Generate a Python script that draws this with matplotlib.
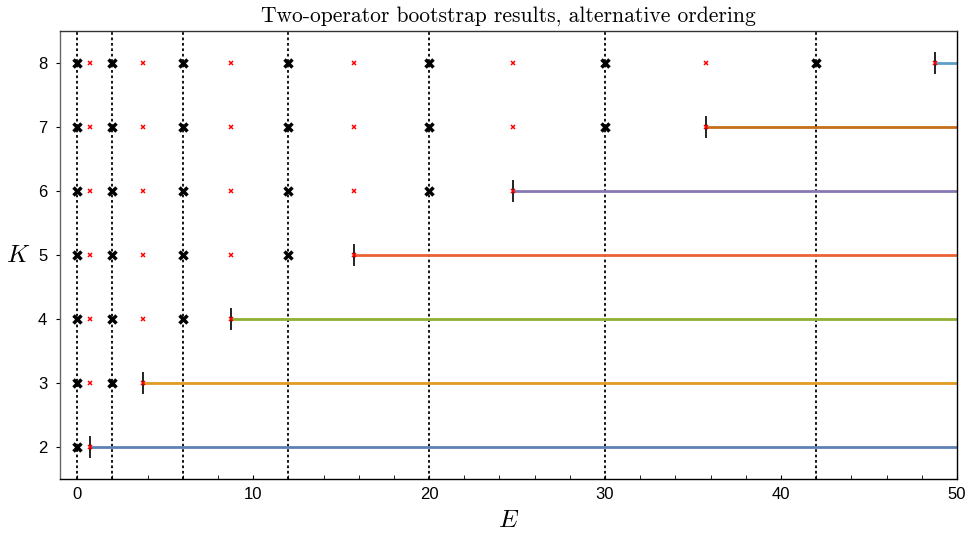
import matplotlib
matplotlib.use("Agg")
import matplotlib.pyplot as plt
from matplotlib.ticker import MultipleLocator

plt.rcParams.update({'font.size': 12, 'mathtext.fontset': 'cm',
                     'font.family': ['Liberation Sans', 'DejaVu Sans']})

# exact levels n(n+1) and bootstrap bounds per K
levels = [0, 2, 6, 12, 20, 30, 42]
bounds = [0.75, 3.75, 8.75, 15.75, 24.75, 35.75, 48.75]
Ks = [2, 3, 4, 5, 6, 7, 8]
err = 0.15
colors = ["#5E81B5", "#E19C24", "#8FB032", "#EB6235",
          "#8778B3", "#C56E1A", "#5D9EC7"]
xmax = 50

fig = plt.figure(figsize=(9.7, 5.33), dpi=100)
ax = fig.add_axes([0.0615, 0.1013, 0.925, 0.8405])

for lv in levels:
    ax.axvline(lv, color="black", ls=(0, (1.5, 1.5)), lw=1.3, zorder=1)

for i, K in enumerate(Ks):
    start = bounds[K - 2]
    ax.plot([start, xmax + 5], [K, K], color=colors[i], lw=2, zorder=2)
    ax.plot([start, start], [K - err, K + err], color="#222222", lw=1.4, zorder=3)
    ax.plot(bounds[:K - 1], [K] * (K - 1), 'x', color="red", ms=3.5, mew=1.1, zorder=4)
    ax.plot(levels[:K - 1], [K] * (K - 1), 'x', color="black", ms=6, mew=2.5, zorder=4)

ax.set_xlim(-1, 50)
ax.set_ylim(1.5, 8.5)
ax.xaxis.set_major_locator(MultipleLocator(10))
ax.xaxis.set_minor_locator(MultipleLocator(2))
ax.yaxis.set_major_locator(MultipleLocator(1))
ax.tick_params(axis='x', which='both', direction='in', length=3, top=False, pad=6)
ax.tick_params(axis='y', direction='out', length=3, right=False, pad=6)
for s in ax.spines.values():
    s.set_linewidth(1.0)
ax.spines['left'].set_color("#666666")
ax.spines['top'].set_color("#333333")

ax.set_xlabel("$E$", fontsize=18, labelpad=4)
ax.set_ylabel("$K$", fontsize=18, rotation=0, labelpad=14, va="center")
ax.set_title("Two-operator bootstrap results, alternative ordering",
             fontname="cmr10", fontsize=15.5, pad=7)

fig.savefig("out.png")
